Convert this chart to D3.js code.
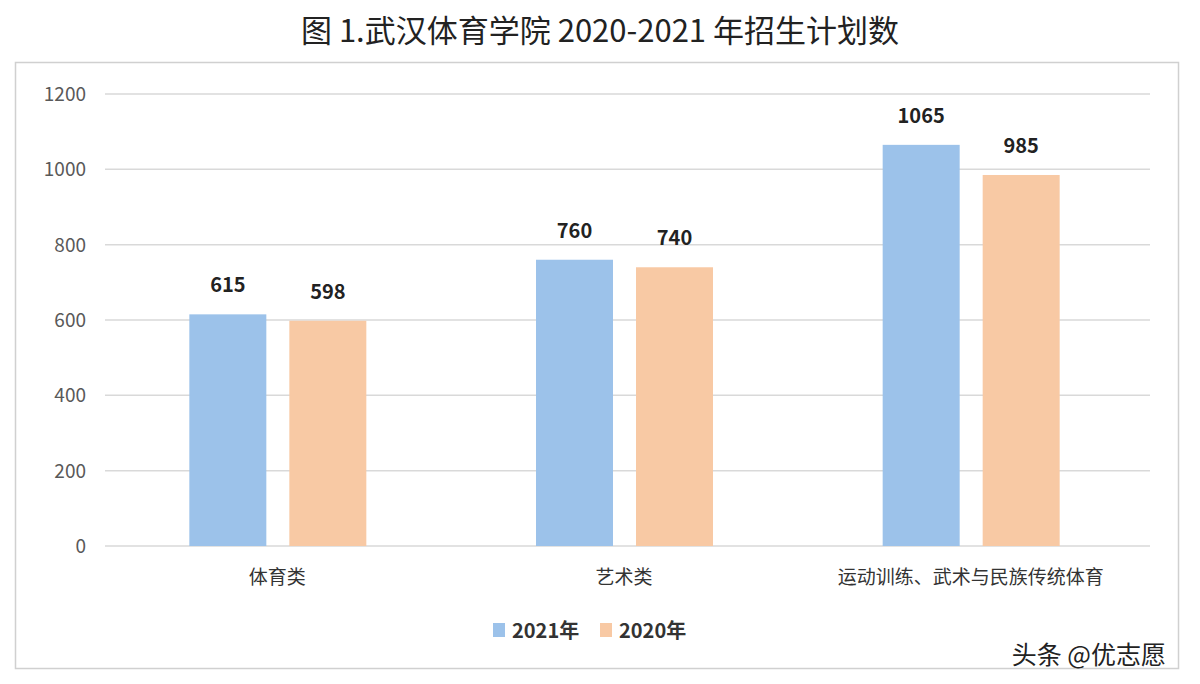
<!DOCTYPE html>
<html><head><meta charset="utf-8">
<script src="https://cdn.jsdelivr.net/npm/d3@7"></script>
<style>body{margin:0;background:#fff;font-family:"Noto Sans CJK SC","Noto Sans",sans-serif;}</style>
</head><body><svg id="chart" width="1200" height="684"></svg>
<script>
const categories = ['体育类', '艺术类', '运动训练、武术与民族传统体育'];
const series = ['2021年', '2020年'];
const values2021 = [615, 760, 1065];
const values2020 = [598, 740, 985];
const yTicks = [0, 200, 400, 600, 800, 1000, 1200];
const colors = ['#9cc2ea', '#f8c9a4'];

const svg = d3.select('#chart');
svg.append('rect').attr('x', 15.5).attr('y', 62.5).attr('width', 1163).attr('height', 606)
  .attr('fill', '#fff').attr('stroke', '#d0d0d0').attr('stroke-width', 1.5);

svg.append('text').attr('x', 600).attr('y', 42).attr('text-anchor', 'middle')
  .attr('font-size', 31).attr('fill', '#222').text('图 1.武汉体育学院 2020-2021 年招生计划数');

const plotLeft = 105, plotRight = 1150, plotTop = 94, plotBottom = 546;
const x0 = d3.scaleBand().domain(categories).range([104, 1144]);
const x1 = d3.scaleBand().domain(series).range([0, 177]).paddingInner(0.23);
const y = d3.scaleLinear().domain([0, 1200]).range([plotBottom, plotTop]);

const g = svg.append('g');
g.selectAll('.grid').data(yTicks).join('line')
  .attr('x1', plotLeft).attr('x2', plotRight).attr('y1', d => y(d)).attr('y2', d => y(d))
  .attr('stroke', '#d9d9d9').attr('stroke-width', 1.5);
g.selectAll('.ylab').data(yTicks).join('text')
  .attr('x', 86).attr('y', d => y(d) + 7).attr('text-anchor', 'end')
  .attr('font-size', 19).attr('fill', '#595959').text(d => d);

const data = categories.map((c, i) => [values2021[i], values2020[i]]);
categories.forEach((c, i) => {
  const cx = x0(c) + x0.bandwidth() / 2 - 88;
  series.forEach((s, j) => {
    const v = data[i][j];
    g.append('rect').attr('x', cx + x1(s)).attr('width', x1.bandwidth())
      .attr('y', y(v)).attr('height', plotBottom - y(v)).attr('fill', colors[j]);
    g.append('text').attr('x', cx + x1(s) + x1.bandwidth() / 2).attr('y', y(v) - 22)
      .attr('text-anchor', 'middle').attr('font-size', 20).attr('font-weight', 'bold')
      .attr('fill', '#222').text(v);
  });
  g.append('text').attr('x', x0(c) + x0.bandwidth() / 2).attr('y', 584)
    .attr('text-anchor', 'middle').attr('font-size', 19).attr('fill', '#333').text(c);
});

const legX = [493, 600];
series.forEach((s, j) => {
  svg.append('rect').attr('x', legX[j]).attr('y', 623).attr('width', 12).attr('height', 14).attr('fill', colors[j]);
  svg.append('text').attr('x', legX[j] + 19).attr('y', 638).attr('font-size', 20)
    .attr('font-weight', 'bold').attr('fill', '#333').text(s);
});

svg.append('text').attr('x', 1166).attr('y', 664).attr('text-anchor', 'end')
  .attr('font-size', 25).attr('fill', '#222').text('头条 @优志愿');
</script></body></html>
